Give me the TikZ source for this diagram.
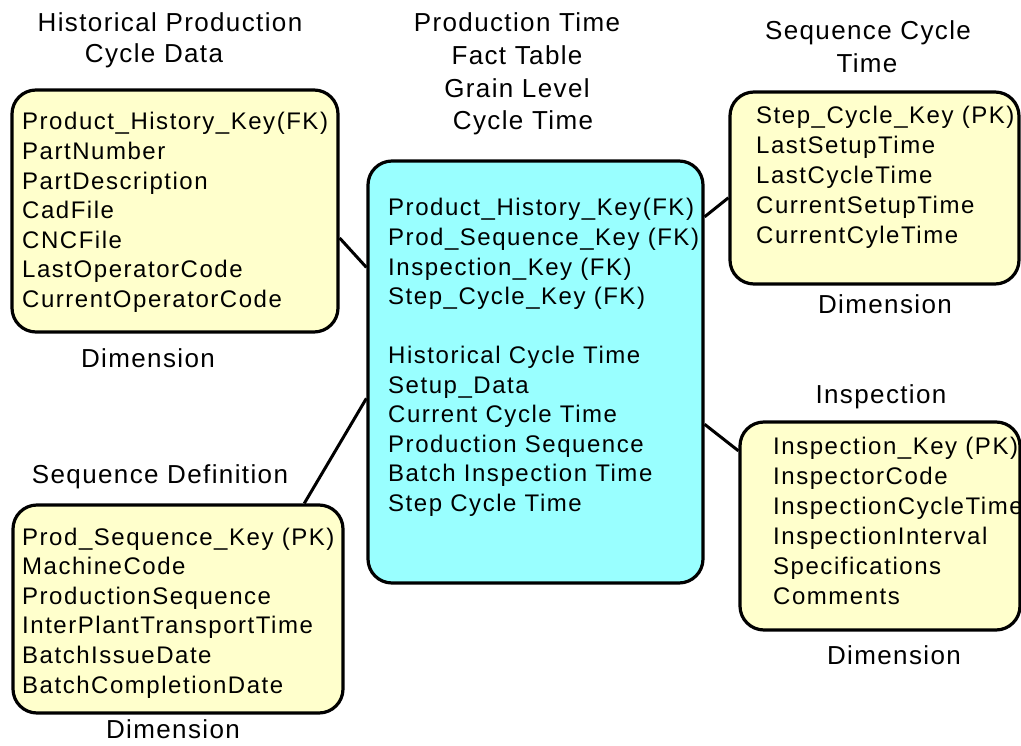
\documentclass[tikz,border=0pt]{standalone}
\usepackage{fontspec}
\setmainfont{Liberation Sans}[Ligatures=CommonOff]
\newfontfamily\fieldfont{Liberation Sans}[LetterSpace=6.4,Ligatures=CommonOff]
\newfontfamily\headfont{Liberation Sans}[LetterSpace=5.3,Ligatures=CommonOff]
\usetikzlibrary{calc}

\definecolor{dimfill}{RGB}{255,255,204}
\definecolor{factfill}{RGB}{153,255,255}

\begin{document}
\begin{tikzpicture}[x=1pt,y=-1pt,
  table/.style={draw=black, line width=3.2pt, rounded corners=24pt, inner sep=0pt},
  dim/.style={table, fill=dimfill},
  fact/.style={table, fill=factfill},
  field/.style={anchor=base west, inner sep=0pt, font=\fieldfont\fontsize{24}{29}\selectfont},
  heading/.style={anchor=base, inner sep=0pt, font=\headfont\fontsize{26}{33}\selectfont},
  link/.style={draw=black, line width=3pt}]
\useasboundingbox (0,0) rectangle (1021,746);

% tables
\node[dim,  minimum width=326pt, minimum height=242pt] (hist) at (175,211) {};
\node[fact, minimum width=335pt, minimum height=422pt] (fact) at (535.5,372) {};
\node[dim,  minimum width=289pt, minimum height=192pt] (step) at (874.5,188) {};
\node[dim,  minimum width=280pt, minimum height=208pt] (insp) at (880,526) {};
\node[dim,  minimum width=330pt, minimum height=208pt] (seq)  at (178,609) {};

% connectors between the dimensions and the fact table
\draw[link] ($(hist.north east)!0.61!(hist.south east)$) -- ($(fact.north west)!0.254!(fact.south west)$);
\draw[link] ($(fact.north east)!0.135!(fact.south east)$) -- ($(step.north west)!0.55!(step.south west)$);
\draw[link] ($(fact.north east)!0.623!(fact.south east)$) -- ($(insp.north west)!0.144!(insp.south west)$);
\draw[link] ($(fact.north west)!0.562!(fact.south west)$) -- ($(seq.north west)!0.879!(seq.north east)$);

% headings
\node[heading] (hist-t1) at (170,32) {Historical Production};
\node[heading] (hist-t2) at (154,63) {Cycle Data};
\node[heading] (hist-d)  at (148,367) {Dimension};

\node[heading] (fact-t1) at (517,32) {Production Time};
\node[heading] (fact-t2) at (517,65) {Fact Table};
\node[heading] (fact-t3) at (517,98) {Grain Level};
\node[heading] (fact-t4) at (523,130) {Cycle Time};

\node[heading] (step-t1) at (868,40) {Sequence Cycle};
\node[heading] (step-t2) at (867,73) {Time};
\node[heading] (step-d)  at (885,314) {Dimension};

\node[heading] (insp-t)  at (881,403) {Inspection};
\node[heading] (insp-d)  at (894,664) {Dimension};

\node[heading] (seq-t)   at (160,483) {Sequence Definition};
\node[heading] (seq-d)   at (173,738) {Dimension};

% fields
\foreach \t [count=\i from 0] in {Product\_History\_Key(FK), PartNumber, PartDescription,
    CadFile, CNCFile, LastOperatorCode, CurrentOperatorCode}
  \node[field] (hist-f\i) at (22,130+29.6*\i) {\t};

\foreach \t [count=\i from 0] in {Product\_History\_Key(FK), Prod\_Sequence\_Key (FK),
    Inspection\_Key (FK), Step\_Cycle\_Key (FK)}
  \node[field] (fact-k\i) at (388,216+29.6*\i) {\t};
\foreach \t [count=\i from 0] in {Historical Cycle Time, Setup\_Data, Current Cycle Time,
    Production Sequence, Batch Inspection Time, Step Cycle Time}
  \node[field] (fact-m\i) at (388,363.5+29.6*\i) {\t};

\foreach \t [count=\i from 0] in {Step\_Cycle\_Key (PK), LastSetupTime, LastCycleTime,
    CurrentSetupTime, CurrentCyleTime}
  \node[field] (step-f\i) at (756,124+30*\i) {\t};

\foreach \t [count=\i from 0] in {Inspection\_Key (PK), InspectorCode, InspectionCycleTime,
    InspectionInterval, Specifications, Comments}
  \node[field] (insp-f\i) at (773,454+30*\i) {\t};

\foreach \t [count=\i from 0] in {Prod\_Sequence\_Key (PK), MachineCode, ProductionSequence,
    InterPlantTransportTime, BatchIssueDate, BatchCompletionDate}
  \node[field] (seq-f\i) at (22,545+29.6*\i) {\t};
\end{tikzpicture}
\end{document}
